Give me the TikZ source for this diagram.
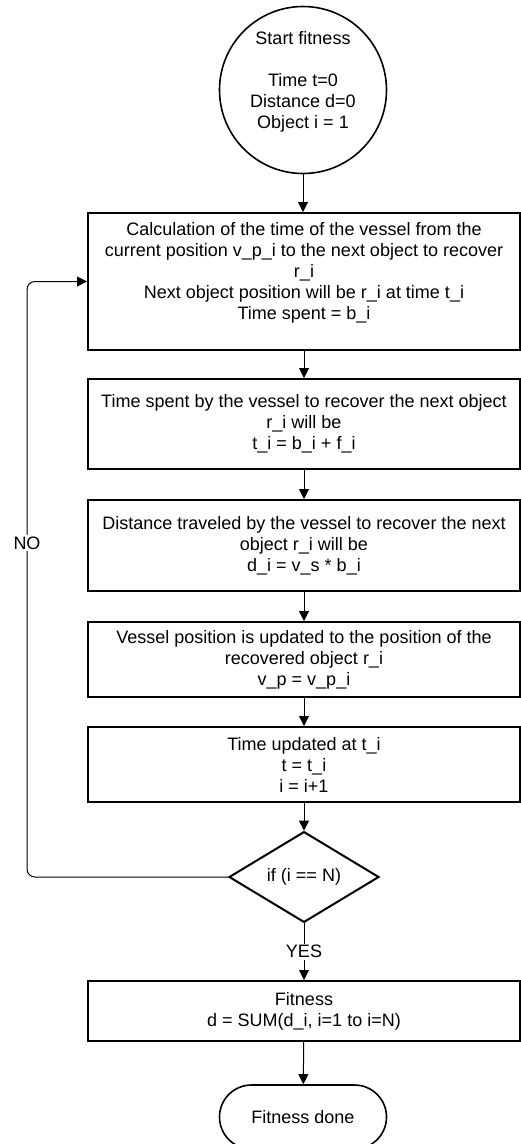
\documentclass[tikz,border=0pt]{standalone}
\usepackage{fontspec}
\setmainfont{Liberation Sans}
\usetikzlibrary{shapes.geometric,arrows.meta}
\tikzset{
  procbox/.style={draw, line width=2pt, minimum width=432pt, minimum height=#1, align=center, inner sep=0pt},
  startcirc/.style={draw, circle, line width=1.6pt, minimum size=167pt, align=center, inner sep=0pt},
  decide/.style={draw, diamond, line width=2pt, minimum width=150pt, minimum height=89pt, inner sep=0pt},
  endbox/.style={draw, rectangle, rounded corners=32pt, line width=1.6pt, minimum width=167pt, minimum height=64pt},
  conn/.style={line width=1pt, -{Triangle[length=10pt,width=10pt]}},
  lbl/.style={fill=white, inner sep=1.5pt}
}
\begin{document}
\begin{tikzpicture}[x=1pt,y=-1pt,font=\fontsize{18}{21}\selectfont]
\useasboundingbox (0,0) rectangle (521,1144);
\node[startcirc] (start) at (303,90) {Start fitness\\ \mbox{}\\ Time t=0\\ Distance d=0\\ Object i = 1\\ \mbox{}};
\node[procbox=137pt] (calc) at (304,281.5) {Calculation of the time of the vessel from the\\ current position v\_p\_i to the next object to recover\\ r\_i\\ Next object position will be r\_i at time t\_i\\ Time spent = b\_i\\ \mbox{}};
\node[procbox=90pt] (spent) at (304,424) {Time spent by the vessel to recover the next object\\ r\_i will be\\ t\_i = b\_i + f\_i};
\node[procbox=91pt] (dist) at (304,545.5) {Distance traveled by the vessel to recover the next\\ object r\_i will be\\ d\_i = v\_s * b\_i};
\node[procbox=75pt] (upd) at (304,659.5) {Vessel position is updated to the position of the\\ recovered object r\_i\\ v\_p = v\_p\_i};
\node[procbox=75pt] (tupd) at (304,764.5) {Time updated at t\_i\\ t = t\_i\\ i = i+1};
\node[decide] (cond) at (304,877) {if (i == N)};
\node[procbox=60pt] (fit) at (304,1011) {Fitness\\ d = SUM(d\_i, i=1 to i=N)};
\node[endbox] (done) at (303,1117) {Fitness done};
\coordinate (loopx) at (27,0);

\draw[conn] (start.south) -- (start.south |- calc.north);
\draw[conn] (calc) -- (spent);
\draw[conn] (spent) -- (dist);
\draw[conn] (dist) -- (upd);
\draw[conn] (upd) -- (tupd);
\draw[conn] (tupd) -- (cond);
\draw[conn] (cond) -- node[lbl] (yes) {YES} (fit);
\draw[conn] (fit) -- (done);
\draw[conn,rounded corners=8pt] (cond.west) -- (cond.west -| loopx) |- (calc.west);
\node[lbl] (no) at (27,543) {NO};
\end{tikzpicture}
\end{document}
